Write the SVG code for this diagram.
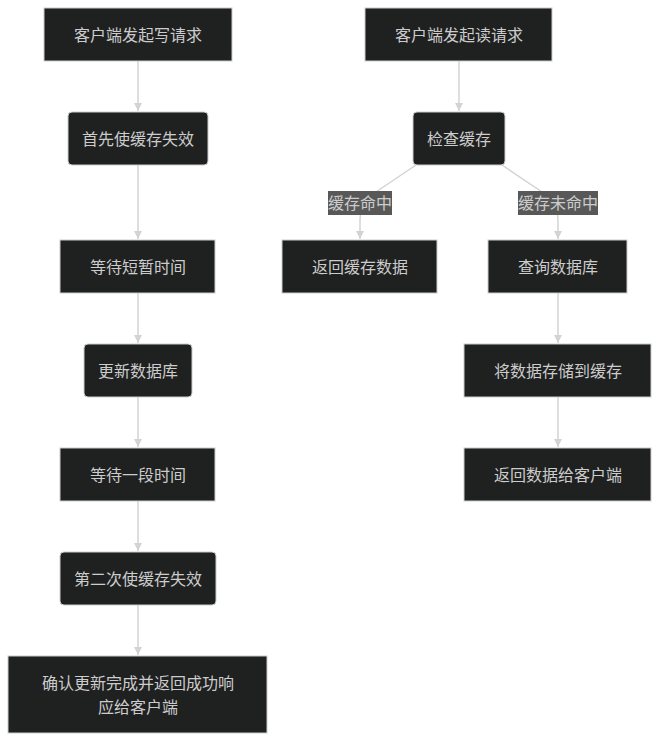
<svg xmlns="http://www.w3.org/2000/svg" width="660" height="742" viewBox="0 0 660 742">
<style>
.n{fill:#1f2020;stroke:#cccccc;stroke-width:1}
.t{fill:#cccccc;font-family:"Noto Sans CJK SC","Noto Sans",sans-serif;font-size:16px;text-anchor:middle;dominant-baseline:central}
.e{fill:none;stroke:#d3d3d3;stroke-width:1.5}
.lb{fill:#585858}
</style>
<defs>
<marker id="ah" viewBox="0 0 10 10" refX="10" refY="5" markerWidth="8" markerHeight="8" orient="auto" markerUnits="userSpaceOnUse">
<path d="M0,0 L10,5 L0,10 z" fill="#d3d3d3"/>
</marker>
</defs>
<rect width="660" height="742" fill="#ffffff"/>
<g id="edges">
<path class="e" d="M138,61 V111" marker-end="url(#ah)"/>
<path class="e" d="M138,165 V239" marker-end="url(#ah)"/>
<path class="e" d="M138,293 V343" marker-end="url(#ah)"/>
<path class="e" d="M138,397 V447" marker-end="url(#ah)"/>
<path class="e" d="M138,501 V551" marker-end="url(#ah)"/>
<path class="e" d="M138,605 V655" marker-end="url(#ah)"/>
<path class="e" d="M459,61 V111" marker-end="url(#ah)"/>
<path class="e" d="M416,165 L370,196 Q360,205 360,220 V239" marker-end="url(#ah)"/>
<path class="e" d="M502,165 L548,196 Q558,205 558,220 V239" marker-end="url(#ah)"/>
<path class="e" d="M558,293 V343" marker-end="url(#ah)"/>
<path class="e" d="M558,397 V447" marker-end="url(#ah)"/>
<g id="label1"><rect class="lb" x="328" y="191" width="64" height="24"/><text class="t" x="360" y="202">缓存命中</text></g>
<g id="label2"><rect class="lb" x="518" y="191" width="80" height="24"/><text class="t" x="558" y="202">缓存未命中</text></g>
</g>
<g id="w1"><rect class="n" x="44" y="8" width="188" height="53"/><text class="t" x="138" y="33.5">客户端发起写请求</text></g>
<g id="w2"><rect class="n" x="68" y="112" width="140" height="53" rx="4"/><text class="t" x="138" y="137.5">首先使缓存失效</text></g>
<g id="w3"><rect class="n" x="60" y="240" width="155" height="53"/><text class="t" x="138" y="265.5">等待短暂时间</text></g>
<g id="w4"><rect class="n" x="84" y="344" width="108" height="53" rx="4"/><text class="t" x="138" y="369.5">更新数据库</text></g>
<g id="w5"><rect class="n" x="60" y="448" width="155" height="53"/><text class="t" x="138" y="473.5">等待一段时间</text></g>
<g id="w6"><rect class="n" x="60" y="552" width="156" height="53" rx="4"/><text class="t" x="138" y="577.5">第二次使缓存失效</text></g>
<g id="w7"><rect class="n" x="8" y="656" width="259" height="77"/><text class="t" x="138" y="681.5">确认更新完成并返回成功响</text><text class="t" x="138" y="705.5">应给客户端</text></g>
<g id="r1"><rect class="n" x="365" y="8" width="187" height="53"/><text class="t" x="459" y="33.5">客户端发起读请求</text></g>
<g id="r2"><rect class="n" x="413" y="112" width="92" height="53" rx="4"/><text class="t" x="459" y="137.5">检查缓存</text></g>
<g id="r3"><rect class="n" x="282" y="240" width="155" height="53"/><text class="t" x="360" y="265.5">返回缓存数据</text></g>
<g id="r4"><rect class="n" x="488" y="240" width="139" height="53"/><text class="t" x="558" y="265.5">查询数据库</text></g>
<g id="r5"><rect class="n" x="464" y="344" width="187" height="53"/><text class="t" x="558" y="369.5">将数据存储到缓存</text></g>
<g id="r6"><rect class="n" x="464" y="448" width="187" height="53"/><text class="t" x="558" y="473.5">返回数据给客户端</text></g>
</svg>
